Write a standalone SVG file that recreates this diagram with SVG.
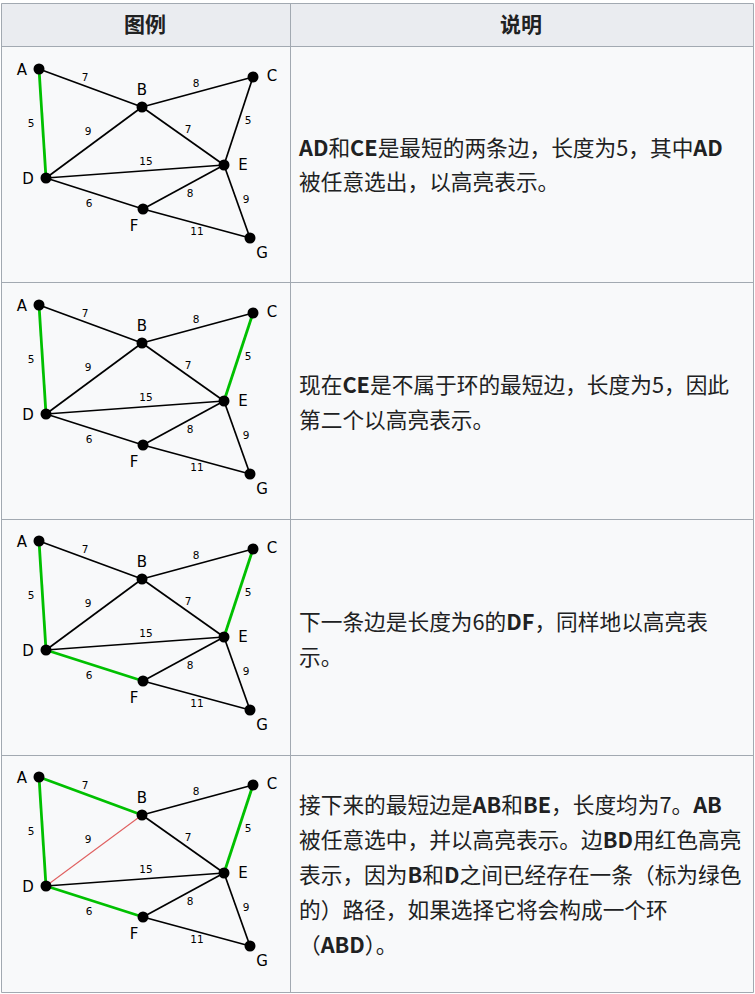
<svg xmlns="http://www.w3.org/2000/svg" width="755" height="994" viewBox="0 0 755 994">
<style>
.hdr{fill:#eaecf0}
.cell{fill:#f8f9fa}
.bd{stroke:#a2a9b1;stroke-width:1;fill:none}
.ht{font-family:"Noto Sans CJK SC",sans-serif;font-size:21px;font-weight:bold;fill:#202122;text-anchor:middle}
.tx{font-family:"Noto Sans CJK SC",sans-serif;font-size:21.7px;fill:#202122}
.tx .b{font-weight:bold}
.e{stroke:#000;stroke-width:1.7;fill:none}
.g{stroke:#00c000;stroke-width:2.8;fill:none}
.r{stroke:#e06060;stroke-width:1.1;fill:none}
.dot{fill:#000}
.nl{font-family:"DejaVu Sans",sans-serif;font-size:15px;fill:#000;text-anchor:middle}
.el{font-family:"DejaVu Sans",sans-serif;font-size:10.5px;fill:#000;text-anchor:middle}
</style>
<rect width="755" height="994" fill="#ffffff"/>
<g id="table">
<rect class="hdr" x="1" y="3" width="752" height="43"/>
<rect class="cell" x="1" y="46" width="752" height="946"/>
<path class="bd" d="M1.5 3.5H753.5V992.5H1.5Z M1.5 46.5H753.5 M1.5 282.5H753.5 M1.5 519.5H753.5 M1.5 755.5H753.5 M290.5 3.5V992.5"/>
<text class="ht" x="145" y="32">图例</text>
<text class="ht" x="521" y="32">说明</text>
</g>

<g id="connectors">
<g transform="translate(0,0)">
<line class="e" x1="39" y1="69" x2="142" y2="107"/>
<line class="e" x1="142" y1="107" x2="253" y2="77"/>
<line class="e" x1="142" y1="107" x2="46" y2="178"/>
<line class="e" x1="142" y1="107" x2="224" y2="165"/>
<line class="e" x1="253" y1="77" x2="224" y2="165"/>
<line class="e" x1="46" y1="178" x2="224" y2="165"/>
<line class="e" x1="46" y1="178" x2="143" y2="209"/>
<line class="e" x1="143" y1="209" x2="224" y2="165"/>
<line class="e" x1="224" y1="165" x2="250" y2="238"/>
<line class="e" x1="143" y1="209" x2="250" y2="238"/>
<line class="g" x1="39" y1="69" x2="46" y2="178"/>
</g>
<g transform="translate(0,236)">
<line class="e" x1="39" y1="69" x2="142" y2="107"/>
<line class="e" x1="142" y1="107" x2="253" y2="77"/>
<line class="e" x1="142" y1="107" x2="46" y2="178"/>
<line class="e" x1="142" y1="107" x2="224" y2="165"/>
<line class="e" x1="46" y1="178" x2="224" y2="165"/>
<line class="e" x1="46" y1="178" x2="143" y2="209"/>
<line class="e" x1="143" y1="209" x2="224" y2="165"/>
<line class="e" x1="224" y1="165" x2="250" y2="238"/>
<line class="e" x1="143" y1="209" x2="250" y2="238"/>
<line class="g" x1="39" y1="69" x2="46" y2="178"/>
<line class="g" x1="253" y1="77" x2="224" y2="165"/>
</g>
<g transform="translate(0,472)">
<line class="e" x1="39" y1="69" x2="142" y2="107"/>
<line class="e" x1="142" y1="107" x2="253" y2="77"/>
<line class="e" x1="142" y1="107" x2="46" y2="178"/>
<line class="e" x1="142" y1="107" x2="224" y2="165"/>
<line class="e" x1="46" y1="178" x2="224" y2="165"/>
<line class="e" x1="143" y1="209" x2="224" y2="165"/>
<line class="e" x1="224" y1="165" x2="250" y2="238"/>
<line class="e" x1="143" y1="209" x2="250" y2="238"/>
<line class="g" x1="39" y1="69" x2="46" y2="178"/>
<line class="g" x1="253" y1="77" x2="224" y2="165"/>
<line class="g" x1="46" y1="178" x2="143" y2="209"/>
</g>
<g transform="translate(0,708)">
<line class="e" x1="142" y1="107" x2="253" y2="77"/>
<line class="r" x1="142" y1="107" x2="46" y2="178"/>
<line class="e" x1="142" y1="107" x2="224" y2="165"/>
<line class="e" x1="46" y1="178" x2="224" y2="165"/>
<line class="e" x1="143" y1="209" x2="224" y2="165"/>
<line class="e" x1="224" y1="165" x2="250" y2="238"/>
<line class="e" x1="143" y1="209" x2="250" y2="238"/>
<line class="g" x1="39" y1="69" x2="142" y2="107"/>
<line class="g" x1="39" y1="69" x2="46" y2="178"/>
<line class="g" x1="253" y1="77" x2="224" y2="165"/>
<line class="g" x1="46" y1="178" x2="143" y2="209"/>
</g>
</g>

<g id="edge-labels">
<g transform="translate(0,0)">
<text class="el" x="85" y="81">7</text><text class="el" x="196" y="87">8</text><text class="el" x="31" y="127">5</text><text class="el" x="88" y="135">9</text><text class="el" x="188" y="133">7</text><text class="el" x="248" y="124">5</text><text class="el" x="146" y="165">15</text><text class="el" x="190" y="197">8</text><text class="el" x="246" y="203">9</text><text class="el" x="89" y="207">6</text><text class="el" x="197" y="235">11</text>
</g>
<g transform="translate(0,236)">
<text class="el" x="85" y="81">7</text><text class="el" x="196" y="87">8</text><text class="el" x="31" y="127">5</text><text class="el" x="88" y="135">9</text><text class="el" x="188" y="133">7</text><text class="el" x="248" y="124">5</text><text class="el" x="146" y="165">15</text><text class="el" x="190" y="197">8</text><text class="el" x="246" y="203">9</text><text class="el" x="89" y="207">6</text><text class="el" x="197" y="235">11</text>
</g>
<g transform="translate(0,472)">
<text class="el" x="85" y="81">7</text><text class="el" x="196" y="87">8</text><text class="el" x="31" y="127">5</text><text class="el" x="88" y="135">9</text><text class="el" x="188" y="133">7</text><text class="el" x="248" y="124">5</text><text class="el" x="146" y="165">15</text><text class="el" x="190" y="197">8</text><text class="el" x="246" y="203">9</text><text class="el" x="89" y="207">6</text><text class="el" x="197" y="235">11</text>
</g>
<g transform="translate(0,708)">
<text class="el" x="85" y="81">7</text><text class="el" x="196" y="87">8</text><text class="el" x="31" y="127">5</text><text class="el" x="88" y="135">9</text><text class="el" x="188" y="133">7</text><text class="el" x="248" y="124">5</text><text class="el" x="146" y="165">15</text><text class="el" x="190" y="197">8</text><text class="el" x="246" y="203">9</text><text class="el" x="89" y="207">6</text><text class="el" x="197" y="235">11</text>
</g>
</g>

<g id="graph1" transform="translate(0,0)">
<g id="g1-A"><circle class="dot" cx="39" cy="69" r="5.5"/><text class="nl" x="22" y="75">A</text></g>
<g id="g1-B"><circle class="dot" cx="142" cy="107" r="5.5"/><text class="nl" x="142" y="95">B</text></g>
<g id="g1-C"><circle class="dot" cx="253" cy="77" r="5.5"/><text class="nl" x="272" y="81">C</text></g>
<g id="g1-D"><circle class="dot" cx="46" cy="178" r="5.5"/><text class="nl" x="28" y="184">D</text></g>
<g id="g1-E"><circle class="dot" cx="224" cy="165" r="5.5"/><text class="nl" x="243" y="170">E</text></g>
<g id="g1-F"><circle class="dot" cx="143" cy="209" r="5.5"/><text class="nl" x="134" y="231">F</text></g>
<g id="g1-G"><circle class="dot" cx="250" cy="238" r="5.5"/><text class="nl" x="262" y="258">G</text></g>
</g>
<g id="graph2" transform="translate(0,236)">
<g id="g2-A"><circle class="dot" cx="39" cy="69" r="5.5"/><text class="nl" x="22" y="75">A</text></g>
<g id="g2-B"><circle class="dot" cx="142" cy="107" r="5.5"/><text class="nl" x="142" y="95">B</text></g>
<g id="g2-C"><circle class="dot" cx="253" cy="77" r="5.5"/><text class="nl" x="272" y="81">C</text></g>
<g id="g2-D"><circle class="dot" cx="46" cy="178" r="5.5"/><text class="nl" x="28" y="184">D</text></g>
<g id="g2-E"><circle class="dot" cx="224" cy="165" r="5.5"/><text class="nl" x="243" y="170">E</text></g>
<g id="g2-F"><circle class="dot" cx="143" cy="209" r="5.5"/><text class="nl" x="134" y="231">F</text></g>
<g id="g2-G"><circle class="dot" cx="250" cy="238" r="5.5"/><text class="nl" x="262" y="258">G</text></g>
</g>
<g id="graph3" transform="translate(0,472)">
<g id="g3-A"><circle class="dot" cx="39" cy="69" r="5.5"/><text class="nl" x="22" y="75">A</text></g>
<g id="g3-B"><circle class="dot" cx="142" cy="107" r="5.5"/><text class="nl" x="142" y="95">B</text></g>
<g id="g3-C"><circle class="dot" cx="253" cy="77" r="5.5"/><text class="nl" x="272" y="81">C</text></g>
<g id="g3-D"><circle class="dot" cx="46" cy="178" r="5.5"/><text class="nl" x="28" y="184">D</text></g>
<g id="g3-E"><circle class="dot" cx="224" cy="165" r="5.5"/><text class="nl" x="243" y="170">E</text></g>
<g id="g3-F"><circle class="dot" cx="143" cy="209" r="5.5"/><text class="nl" x="134" y="231">F</text></g>
<g id="g3-G"><circle class="dot" cx="250" cy="238" r="5.5"/><text class="nl" x="262" y="258">G</text></g>
</g>
<g id="graph4" transform="translate(0,708)">
<g id="g4-A"><circle class="dot" cx="39" cy="69" r="5.5"/><text class="nl" x="22" y="75">A</text></g>
<g id="g4-B"><circle class="dot" cx="142" cy="107" r="5.5"/><text class="nl" x="142" y="95">B</text></g>
<g id="g4-C"><circle class="dot" cx="253" cy="77" r="5.5"/><text class="nl" x="272" y="81">C</text></g>
<g id="g4-D"><circle class="dot" cx="46" cy="178" r="5.5"/><text class="nl" x="28" y="184">D</text></g>
<g id="g4-E"><circle class="dot" cx="224" cy="165" r="5.5"/><text class="nl" x="243" y="170">E</text></g>
<g id="g4-F"><circle class="dot" cx="143" cy="209" r="5.5"/><text class="nl" x="134" y="231">F</text></g>
<g id="g4-G"><circle class="dot" cx="250" cy="238" r="5.5"/><text class="nl" x="262" y="258">G</text></g>
</g>

<g id="desc1">
<text class="tx" x="299" y="156"><tspan class="b">AD</tspan>和<tspan class="b">CE</tspan>是最短的两条边，长度为5，其中<tspan class="b">AD</tspan></text>
<text class="tx" x="299" y="190">被任意选出，以高亮表示。</text>
</g>
<g id="desc2">
<text class="tx" x="299" y="393">现在<tspan class="b">CE</tspan>是不属于环的最短边，长度为5，因此</text>
<text class="tx" x="299" y="428">第二个以高亮表示。</text>
</g>
<g id="desc3">
<text class="tx" x="299" y="630">下一条边是长度为6的<tspan class="b">DF</tspan>，同样地以高亮表</text>
<text class="tx" x="299" y="665">示。</text>
</g>
<g id="desc4">
<text class="tx" x="299" y="813">接下来的最短边是<tspan class="b">AB</tspan>和<tspan class="b">BE</tspan>，长度均为7。<tspan class="b">AB</tspan></text>
<text class="tx" x="299" y="848">被任意选中，并以高亮表示。边<tspan class="b">BD</tspan>用红色高亮</text>
<text class="tx" x="299" y="883">表示，因为<tspan class="b">B</tspan>和<tspan class="b">D</tspan>之间已经存在一条（标为绿色</text>
<text class="tx" x="299" y="918">的）路径，如果选择它将会构成一个环</text>
<text class="tx" x="299" y="953">（<tspan class="b">ABD</tspan>）。</text>
</g>
</svg>
